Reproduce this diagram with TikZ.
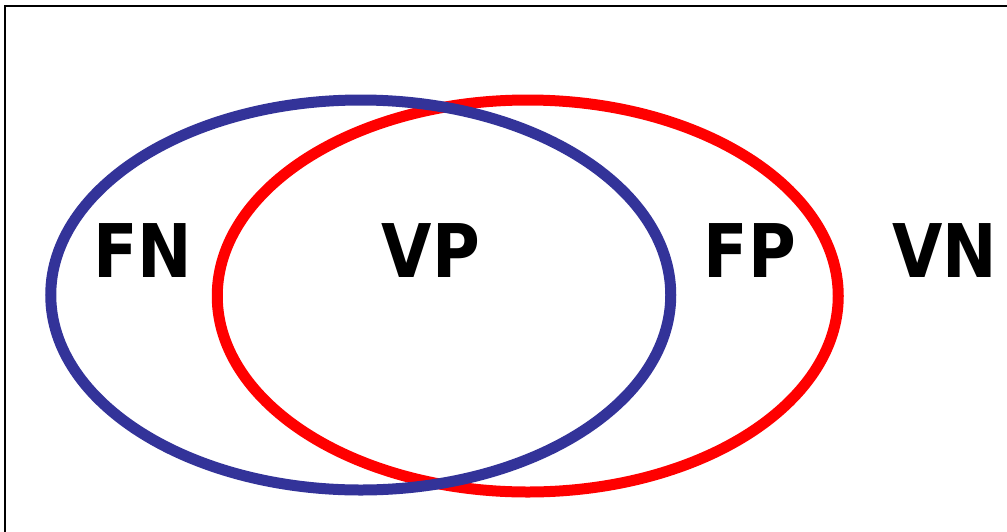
\documentclass[tikz,border=0pt]{standalone}
\usepackage{fontspec}
\setmainfont{DejaVu Sans}
\definecolor{vblue}{HTML}{333399}
\definecolor{vred}{HTML}{FF0000}
\newcommand{\narrowtxt}[1]{\scalebox{0.88}[1]{#1}}
\begin{document}
\begin{tikzpicture}[x=1pt,y=-1pt,
  lbl/.style={font=\fontsize{74}{80}\selectfont\bfseries, anchor=base, inner sep=0pt},
  ring/.style={line width=11pt}]
\useasboundingbox (0,0) rectangle (1007,531);
\fill[white] (0,0) rectangle (1007,531);
\draw[line width=2pt] (5,560) -- (5,6) -- (1030,6);
\draw[ring, vred] (527.75,296) ellipse [x radius=310.5, y radius=196];
\draw[ring, vblue] (360.75,295) ellipse [x radius=310, y radius=195];
\node[lbl] (fn) at (143,277) {\narrowtxt{FN}};
\node[lbl] (vp) at (431,277) {\narrowtxt{VP}};
\node[lbl] (fp) at (750,277) {\narrowtxt{FP}};
\node[lbl] (vn) at (945,277) {\narrowtxt{VN}};
\end{tikzpicture}
\end{document}
